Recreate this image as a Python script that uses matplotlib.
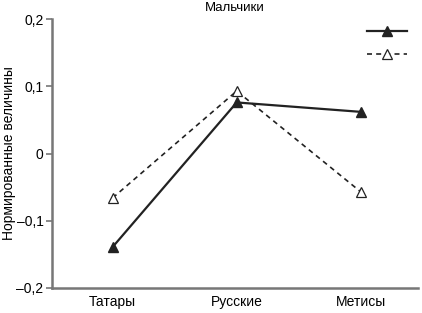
import matplotlib

matplotlib.use("Agg")
import matplotlib.pyplot as plt

groups = ["Татары", "Русские", "Метисы"]
solid_vals = [-0.139, 0.076, 0.062]
dashed_vals = [-0.066, 0.093, -0.057]
yticks = [-0.2, -0.1, 0, 0.1, 0.2]
ytick_labels = ["–0,2", "–0,1", "0", "0,1", "0,2"]

plt.rcParams["font.family"] = ["Liberation Sans", "DejaVu Sans"]

fig = plt.figure(figsize=(4.22, 3.13), dpi=100)
ax = fig.add_axes([0.123, 0.08, 0.867, 0.859])

x = range(len(groups))
h1, = ax.plot(x, solid_vals, "-", color="#222222", lw=1.6, marker="^", ms=7,
              mfc="#222222", mec="#222222")
h2, = ax.plot(x, dashed_vals, "--", color="#222222", lw=1.2, marker="^", ms=7,
              mfc="white", mec="#222222", mew=0.9, dashes=(3, 2.5))

ax.set_xlim(-0.49, 2.46)
ax.set_ylim(-0.2, 0.2)
ax.set_yticks(yticks)
ax.set_yticklabels(ytick_labels, fontsize=10)
ax.set_xticks(list(x))
ax.set_xticklabels(groups, fontsize=10)
ax.tick_params(axis="x", length=0, pad=5)
ax.tick_params(axis="y", length=4, width=1.2, color="#777777", pad=2)
for side in ("top", "right"):
    ax.spines[side].set_visible(False)
for side in ("left", "bottom"):
    ax.spines[side].set_color("#777777")
    ax.spines[side].set_linewidth(1.8)

ax.set_ylabel("Нормированные величины", fontsize=10)
ax.yaxis.set_label_coords(-0.098, 0.5)
ax.set_title("Мальчики", fontsize=9.5, pad=6)

ax.legend([h1, h2], [" ", " "], loc="upper right", frameon=False,
          handlelength=3.2, handletextpad=0, fontsize=9, labelspacing=0.9,
          borderaxespad=0.2, bbox_to_anchor=(1.0, 1.0))

fig.savefig("out.png", dpi=100)
